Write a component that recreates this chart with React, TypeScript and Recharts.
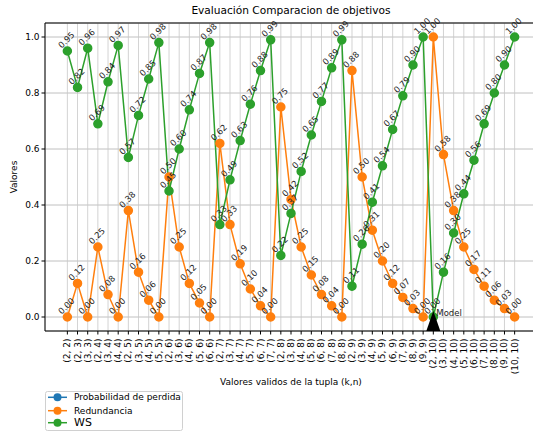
import React from "react";
import {
  LineChart,
  Line,
  XAxis,
  YAxis,
  CartesianGrid,
  LabelList,
  ReferenceDot,
  ReferenceLine,
} from "recharts";

// (k, n) tuples along the x axis
const categories = [
  "(2, 2)", "(2, 3)", "(3, 3)", "(2, 4)", "(3, 4)", "(4, 4)",
  "(2, 5)", "(3, 5)", "(4, 5)", "(5, 5)",
  "(2, 6)", "(3, 6)", "(4, 6)", "(5, 6)", "(6, 6)",
  "(2, 7)", "(3, 7)", "(4, 7)", "(5, 7)", "(6, 7)", "(7, 7)",
  "(2, 8)", "(3, 8)", "(4, 8)", "(5, 8)", "(6, 8)", "(7, 8)", "(8, 8)",
  "(2, 9)", "(3, 9)", "(4, 9)", "(5, 9)", "(6, 9)", "(7, 9)", "(8, 9)", "(9, 9)",
  "(2, 10)", "(3, 10)", "(4, 10)", "(5, 10)", "(6, 10)", "(7, 10)", "(8, 10)", "(9, 10)", "(10, 10)",
];

// Probabilidad de perdida has no plotted values
const probabilidadPerdida: (number | null)[] = [];

const redundancia = [
  0.0, 0.12, 0.0, 0.25, 0.08, 0.0,
  0.38, 0.16, 0.06, 0.0,
  0.5, 0.25, 0.12, 0.05, 0.0,
  0.62, 0.33, 0.19, 0.1, 0.04, 0.0,
  0.75, 0.42, 0.25, 0.15, 0.08, 0.04, 0.0,
  0.88, 0.5, 0.31, 0.2, 0.12, 0.07, 0.03, 0.0,
  1.0, 0.58, 0.38, 0.25, 0.17, 0.11, 0.06, 0.03, 0.0,
];

const ws = [
  0.95, 0.82, 0.96, 0.69, 0.84, 0.97,
  0.57, 0.72, 0.85, 0.98,
  0.45, 0.6, 0.74, 0.87, 0.98,
  0.33, 0.49, 0.63, 0.76, 0.88, 0.99,
  0.22, 0.37, 0.52, 0.65, 0.77, 0.89, 0.99,
  0.11, 0.26, 0.41, 0.54, 0.67, 0.79, 0.9, 1.0,
  0.0, 0.16, 0.3, 0.44, 0.56, 0.69, 0.8, 0.9, 1.0,
];

const yTicks = [0, 0.2, 0.4, 0.6, 0.8, 1.0];
const modelIndex = 36; // (2, 10)
const modelLabel = "Model";

const legendItems = [
  { name: "Probabilidad de perdida", color: "#1f77b4", size: 9 },
  { name: "Redundancia", color: "#ff7f0e", size: 9 },
  { name: "WS", color: "#2ca02c", size: 11 },
];

const data = categories.map((label, i) => ({
  idx: i,
  label,
  prob: probabilidadPerdida[i] ?? null,
  red: redundancia[i],
  ws: ws[i],
}));

const xTicks = categories.map((_, i) => i);
const FONT = "DejaVu Sans, Verdana, sans-serif";

const XTick = (props: any) => {
  const { x, y, payload } = props;
  return (
    <text
      x={x}
      y={y + 2}
      transform={`rotate(-90, ${x}, ${y + 2})`}
      textAnchor="end"
      dominantBaseline="central"
      fontSize={9}
      fontFamily={FONT}
      fill="#000"
    >
      {categories[payload.value]}
    </text>
  );
};

const ValueLabel = (props: any) => {
  const { x, y, value } = props;
  if (value == null || x == null || y == null) return null;
  const cx = x - 1;
  const cy = y - 11;
  return (
    <text
      x={cx}
      y={cy}
      transform={`rotate(-45, ${cx}, ${cy})`}
      textAnchor="middle"
      dominantBaseline="central"
      fontSize={8.5}
      fontFamily={FONT}
      fill="#222"
    >
      {Number(value).toFixed(2)}
    </text>
  );
};

const ModelMarker = (props: any) => {
  const { cx, cy } = props;
  return (
    <g>
      <path
        d={`M${cx},${cy - 6} L${cx - 7},${cy + 14} L${cx + 7},${cy + 14} Z`}
        fill="#000"
      />
      <text x={cx + 3} y={cy - 1} fontSize={8.5} fontFamily={FONT} fill="#222">
        {modelLabel}
      </text>
    </g>
  );
};

export default function App() {
  return (
    <div
      style={{
        position: "fixed",
        left: 0,
        top: 0,
        width: 533,
        height: 434,
        overflow: "hidden",
        background: "#fff",
      }}
    >
      <LineChart
        width={560}
        height={434}
        data={data}
        margin={{ top: 23, right: 23, bottom: 53, left: 0 }}
      >
        <CartesianGrid vertical={false} stroke="#b0b0b0" strokeWidth={0.8} />
        <CartesianGrid horizontal={false} stroke="#c8c8c8" strokeWidth={0.8} />
        <XAxis
          type="number"
          dataKey="idx"
          domain={[-2.2, 46.2]}
          ticks={xTicks}
          interval={0}
          allowDataOverflow
          height={50}
          tick={<XTick />}
          tickSize={3.5}
          tickLine={{ stroke: "#000" }}
          axisLine={{ stroke: "#000" }}
        />
        <YAxis
          type="number"
          domain={[-0.05, 1.05]}
          ticks={yTicks}
          allowDataOverflow
          width={45}
          tickSize={3.5}
          tickFormatter={(v: number) => v.toFixed(1)}
          tick={{ fontSize: 9, fill: "#000", fontFamily: FONT }}
          tickLine={{ stroke: "#000" }}
          axisLine={{ stroke: "#000" }}
        />
        <ReferenceLine y={1.05} stroke="#000" strokeWidth={1} />
        <Line
          dataKey="prob"
          stroke="#1f77b4"
          strokeWidth={1.5}
          dot={{ r: 4, fill: "#1f77b4", stroke: "#1f77b4" }}
          isAnimationActive={false}
        />
        <Line
          dataKey="red"
          stroke="#ff7f0e"
          strokeWidth={1.5}
          dot={{ r: 4, fill: "#ff7f0e", stroke: "#ff7f0e" }}
          isAnimationActive={false}
        >
          <LabelList dataKey="red" content={<ValueLabel />} />
        </Line>
        <Line
          dataKey="ws"
          stroke="#2ca02c"
          strokeWidth={1.5}
          dot={{ r: 4, fill: "#2ca02c", stroke: "#2ca02c" }}
          isAnimationActive={false}
        >
          <LabelList dataKey="ws" content={<ValueLabel />} />
        </Line>
        <ReferenceDot x={modelIndex} y={0} r={0} shape={<ModelMarker />} />
      </LineChart>

      <svg
        width={533}
        height={434}
        style={{ position: "absolute", left: 0, top: 0, pointerEvents: "none" }}
      >
        <text
          x={291}
          y={14}
          textAnchor="middle"
          fontSize={10.6}
          fontFamily={FONT}
          fill="#000"
        >
          Evaluación Comparacion de objetivos
        </text>
        <text
          x={291}
          y={385}
          textAnchor="middle"
          fontSize={9}
          fontFamily={FONT}
          fill="#000"
        >
          Valores validos de la tupla (k,n)
        </text>
        <text
          x={14}
          y={177}
          transform="rotate(-90, 14, 177)"
          textAnchor="middle"
          dominantBaseline="central"
          fontSize={9}
          fontFamily={FONT}
          fill="#000"
        >
          Valores
        </text>
        <rect
          x={45.5}
          y={391.5}
          width={137}
          height={39}
          rx={2}
          fill="#fff"
          stroke="#d0d0d0"
          strokeWidth={1}
        />
        {legendItems.map((item, i) => {
          const yy = [397.3, 410.7, 422.7][i];
          return (
            <g key={item.name}>
              <line x1={48} x2={67} y1={yy} y2={yy} stroke={item.color} strokeWidth={1.5} />
              <circle cx={57.5} cy={yy} r={4} fill={item.color} />
              <text
                x={74}
                y={yy}
                dominantBaseline="central"
                fontSize={item.size}
                fontFamily={FONT}
                fill="#000"
              >
                {item.name}
              </text>
            </g>
          );
        })}
      </svg>
    </div>
  );
}
